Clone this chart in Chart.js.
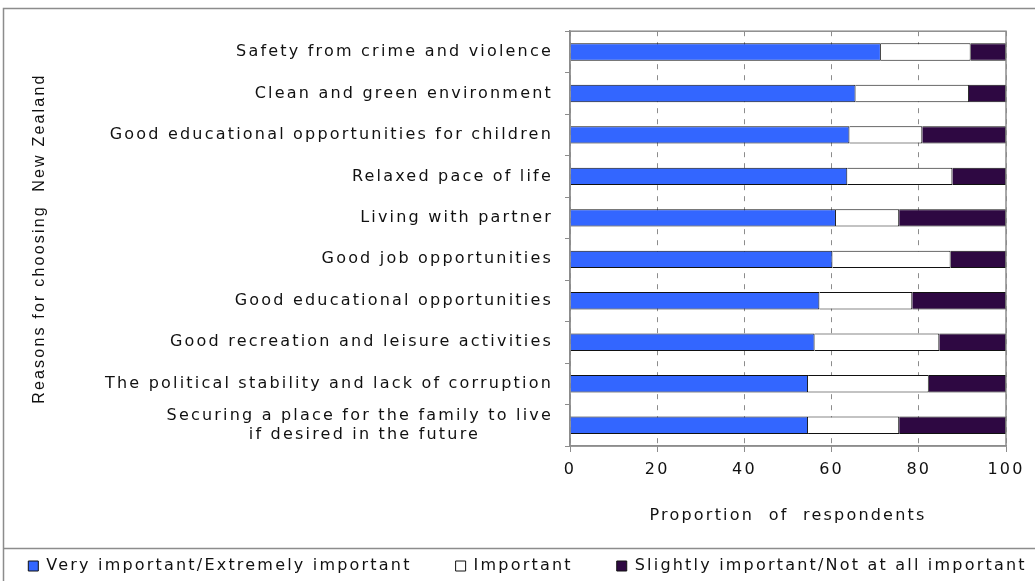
<!DOCTYPE html>
<html lang="en">
  <head>
    <script src="https://cdn.jsdelivr.net/npm/chart.js@4.4.0/dist/chart.umd.min.js"></script>
    <meta charset="UTF-8" />
    <title>Reasons for choosing New Zealand</title>
    <style>
      body { margin: 0; background: #fff; }
    </style>
  </head>
  <body>
    <canvas id="myChart" width="1035" height="581"></canvas>
    <script>
      const reasons = [
        "Safety from crime and violence",
        "Clean and green environment",
        "Good educational opportunities for children",
        "Relaxed pace of life",
        "Living with partner",
        "Good job opportunities",
        "Good educational opportunities",
        "Good recreation and leisure activities",
        "The political stability and lack of corruption",
        ["Securing a place for the family to live", "if desired in the future          "],
      ];
      const veryImportant = [71.3, 65.5, 64.1, 63.6, 61.0, 60.2, 57.2, 56.1, 54.6, 54.6];
      const important = [20.6, 26.0, 16.7, 24.1, 14.5, 27.1, 21.3, 28.6, 27.7, 20.9];
      const slightlyImportant = [8.1, 8.5, 19.2, 12.3, 24.5, 12.7, 21.5, 15.3, 17.7, 24.5];
      const xTicks = [0, 20, 40, 60, 80, 100];

      const font = "'DejaVu Sans', Verdana, sans-serif";
      const spacing = "2.2px";

      // wide letter spacing for all text, outer frame, legend box and solid plot border
      const framePlugin = {
        id: "frame",
        beforeLayout(chart) {
          chart.ctx.letterSpacing = spacing;
        },
        beforeDraw(chart) {
          const ctx = chart.ctx;
          ctx.letterSpacing = spacing;
          ctx.save();
          ctx.fillStyle = "#fff";
          ctx.fillRect(0, 0, chart.width, chart.height);
          ctx.strokeStyle = "#8c8c8c";
          ctx.lineWidth = 1.5;
          ctx.beginPath();
          ctx.moveTo(3.5, chart.height);
          ctx.lineTo(3.5, 8.5);
          ctx.lineTo(chart.width, 8.5);
          ctx.moveTo(3.5, 548.5);
          ctx.lineTo(chart.width, 548.5);
          ctx.stroke();
          ctx.restore();
        },
        afterDatasetsDraw(chart) {
          const { ctx, chartArea: a } = chart;
          ctx.save();
          ctx.strokeStyle = "#8c8c8c";
          ctx.lineWidth = 1.5;
          ctx.strokeRect(a.left, a.top, a.right - a.left, a.bottom - a.top);
          ctx.restore();
        },
      };

      const ctx = document.getElementById("myChart").getContext("2d");
      const chart = new Chart(ctx, {
        type: "bar",
        data: {
          labels: reasons,
          datasets: [
            {
              label: "Very important/Extremely important",
              data: veryImportant,
              backgroundColor: "#3366ff",
              borderColor: "#111",
              borderWidth: 1,
            },
            {
              label: "Important",
              data: important,
              backgroundColor: "#ffffff",
              borderColor: "#111",
              borderWidth: 1,
            },
            {
              label: "Slightly important/Not at all important",
              data: slightlyImportant,
              backgroundColor: "#2e0842",
              borderColor: "#111",
              borderWidth: 1,
            },
          ],
        },
        options: {
          indexAxis: "y",
          responsive: false,
          animation: false,
          categoryPercentage: 0.42,
          barPercentage: 1,
          // negative side padding gives the one-row legend room to spread out
          layout: { padding: { top: 30, right: -40, left: -20, bottom: -3 } },
          plugins: {
            tooltip: { enabled: false },
            legend: {
              position: "bottom",
              labels: {
                boxWidth: 10,
                boxHeight: 10,
                padding: 44,
                color: "#111",
                font: { family: font, size: 16 },
              },
            },
          },
          scales: {
            x: {
              stacked: true,
              min: 0,
              max: 100,
              afterBuildTicks(scale) {
                scale.ticks = xTicks.map((v) => ({ value: v }));
              },
              ticks: { color: "#111", padding: 8, font: { family: font, size: 16 } },
              grid: { color: "#8c8c8c", lineWidth: 1, tickLength: 6, tickBorderDash: [] },
              border: { color: "#8c8c8c", width: 1.5, dash: [5, 6] },
              title: {
                display: true,
                text: "Proportion  of  respondents",
                color: "#111",
                font: { family: font, size: 16 },
                padding: { top: 0, bottom: -11 },
              },
              afterFit(scale) {
                scale.height = 68;
              },
            },
            y: {
              stacked: true,
              ticks: {
                autoSkip: false,
                color: "#111",
                padding: 12,
                font: { family: font, size: 16 },
              },
              grid: { color: "#8c8c8c", drawOnChartArea: false, tickLength: 5 },
              border: { color: "#8c8c8c", width: 1.5 },
              title: {
                display: true,
                text: "Reasons for choosing  New Zealand",
                color: "#111",
                font: { family: "'Liberation Sans', Arial, sans-serif", size: 16 },
                padding: { top: 50, bottom: 0 },
              },
              afterFit(scale) {
                scale.width = 590;
              },
            },
            // empty right-hand axis that keeps the margin beside the plot
            yRight: {
              type: "category",
              position: "right",
              ticks: { display: false },
              grid: { display: false },
              border: { display: false },
              afterFit(scale) {
                scale.width = 69;
              },
            },
          },
        },
        plugins: [framePlugin],
      });
    </script>
  </body>
</html>
